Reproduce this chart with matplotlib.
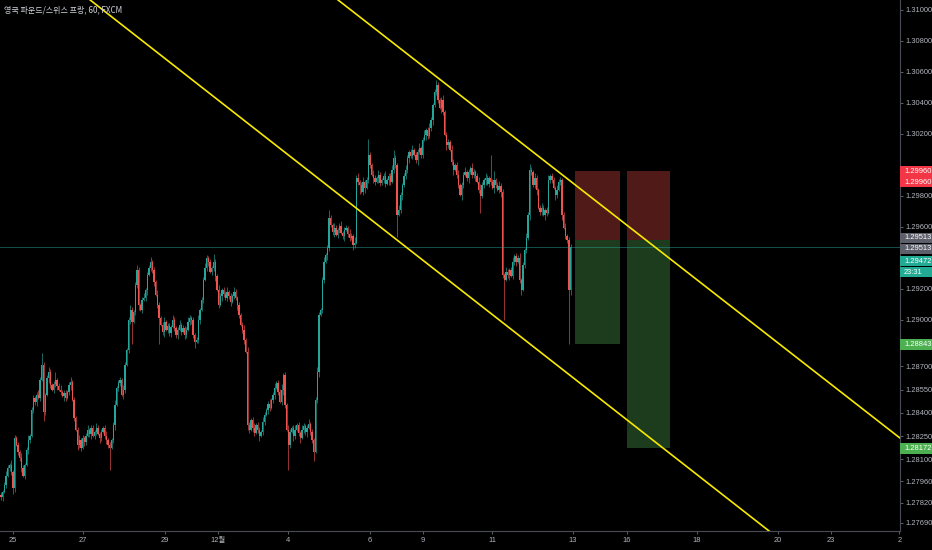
import matplotlib.pyplot as plt
import numpy as np
from matplotlib.patches import Rectangle
from matplotlib.transforms import blended_transform_factory

plt.rcParams['font.family'] = ['Liberation Sans', 'Noto Sans CJK KR', 'DejaVu Sans']

title = '영국 파운드/스위스 프랑, 60, FXCM'

# hourly closes, GBP/CHF
first_open = 1.27870
closes = [
    1.27859, 1.27891, 1.27936, 1.27994, 1.28046, 1.28065, 1.28020, 1.27917, 1.28239, 1.28194,
    1.28149, 1.28110, 1.28046, 1.27994, 1.28065, 1.28162, 1.28227, 1.28252, 1.28420, 1.28497,
    1.28472, 1.28517, 1.28497, 1.28614, 1.28710, 1.28407, 1.28517, 1.28626, 1.28665, 1.28581,
    1.28549, 1.28588, 1.28614, 1.28575, 1.28549, 1.28536, 1.28510, 1.28530, 1.28497, 1.28536,
    1.28581, 1.28601, 1.28485, 1.28368, 1.28291, 1.28194, 1.28227, 1.28175, 1.28239, 1.28214,
    1.28252, 1.28291, 1.28265, 1.28304, 1.28252, 1.28278, 1.28304, 1.28265, 1.28239, 1.28278,
    1.28304, 1.28252, 1.28227, 1.28194, 1.28175, 1.28227, 1.28323, 1.28452, 1.28562, 1.28594,
    1.28614, 1.28517, 1.28549, 1.28710, 1.28807, 1.29001, 1.29065, 1.28988, 1.29052, 1.29226,
    1.29323, 1.29097, 1.29065, 1.29130, 1.29142, 1.29194, 1.29291, 1.29336, 1.29375, 1.29323,
    1.29246, 1.29162, 1.29097, 1.29013, 1.28968, 1.28923, 1.28988, 1.28936, 1.28962, 1.28917,
    1.28955, 1.29001, 1.28949, 1.28904, 1.28936, 1.28968, 1.28923, 1.28949, 1.28904, 1.28936,
    1.28988, 1.29013, 1.29001, 1.28904, 1.28859, 1.28872, 1.29001, 1.29065, 1.29130, 1.29259,
    1.29336, 1.29400, 1.29375, 1.29310, 1.29336, 1.29375, 1.29284, 1.29194, 1.29097, 1.29155,
    1.29194, 1.29168, 1.29142, 1.29181, 1.29155, 1.29117, 1.29155, 1.29181, 1.29142, 1.29097,
    1.29033, 1.28968, 1.28936, 1.28872, 1.28794, 1.28323, 1.28291, 1.28356, 1.28304, 1.28272,
    1.28323, 1.28291, 1.28252, 1.28278, 1.28343, 1.28388, 1.28420, 1.28459, 1.28433, 1.28485,
    1.28517, 1.28562, 1.28594, 1.28536, 1.28472, 1.28549, 1.28646, 1.28452, 1.28291, 1.28194,
    1.28278, 1.28304, 1.28252, 1.28291, 1.28323, 1.28272, 1.28239, 1.28291, 1.28317, 1.28278,
    1.28304, 1.28330, 1.28278, 1.28227, 1.28149, 1.28485, 1.28665, 1.29033, 1.29065, 1.29259,
    1.29375, 1.29420, 1.29465, 1.29658, 1.29613, 1.29568, 1.29594, 1.29549, 1.29581, 1.29607,
    1.29562, 1.29542, 1.29581, 1.29594, 1.29555, 1.29529, 1.29542, 1.29484, 1.29497, 1.29916,
    1.29891, 1.29871, 1.29826, 1.29891, 1.29852, 1.29904, 1.30065, 1.30000, 1.29936, 1.29916,
    1.29891, 1.29916, 1.29936, 1.29884, 1.29904, 1.29929, 1.29878, 1.29904, 1.29929, 1.29891,
    1.29968, 1.30045, 1.30000, 1.29678, 1.29710, 1.29807, 1.29871, 1.29929, 1.29968, 1.30045,
    1.30084, 1.30058, 1.30097, 1.30065, 1.30033, 1.30084, 1.30110, 1.30065, 1.30162, 1.30194,
    1.30226, 1.30187, 1.30239, 1.30291, 1.30387, 1.30471, 1.30516, 1.30420, 1.30368, 1.30420,
    1.30342, 1.30194, 1.30129, 1.30149, 1.30097, 1.30020, 1.29968, 1.30000, 1.29936, 1.29871,
    1.29807, 1.29871, 1.29936, 1.29955, 1.29916, 1.29955, 1.29981, 1.29936, 1.29955, 1.29929,
    1.29891, 1.29839, 1.29800, 1.29871, 1.29904, 1.29916, 1.29878, 1.29916, 1.29891, 1.29852,
    1.29904, 1.29871, 1.29839, 1.29865, 1.29826, 1.29291, 1.29259, 1.29310, 1.29291, 1.29323,
    1.29284, 1.29375, 1.29413, 1.29375, 1.29400, 1.29259, 1.29194, 1.29355, 1.29452, 1.29529,
    1.29678, 1.29968, 1.29955, 1.29871, 1.29916, 1.29839, 1.29723, 1.29697, 1.29723, 1.29678,
    1.29710, 1.29691, 1.29904, 1.29929, 1.29904, 1.29852, 1.29807, 1.29839, 1.29891, 1.29904,
    1.29678, 1.29594, 1.29542, 1.29516, 1.29194, 1.29472,
]

# wick length beyond the body, in pips
upper_wick = [
    2,1,2,3,2,1,3,1,2,1,2,1,3,2,1,2,3,1,2,2,
    1,2,3,2,8,2,1,2,3,2,1,2,5,1,2,3,1,2,2,1,
    2,3,1,2,1,2,3,1,2,1,2,3,1,2,2,1,3,2,1,2,
    1,2,3,1,2,1,2,3,1,2,2,1,3,2,1,2,3,2,1,2,
    3,2,1,2,3,1,2,2,3,1,2,1,3,2,1,2,3,1,2,2,
    1,3,2,1,2,3,1,2,1,2,3,2,1,2,1,2,3,1,2,2,
    3,2,1,2,1,5,2,1,3,2,1,2,2,3,1,2,1,3,2,1,
    2,1,2,3,1,3,2,1,2,3,1,2,2,1,3,2,1,2,3,1,
    2,3,1,2,2,4,1,2,1,3,2,1,2,3,1,2,1,3,2,1,
    2,3,1,2,1,2,3,2,1,2,3,1,2,5,2,1,3,2,1,2,
    3,1,2,2,1,3,2,1,4,2,3,1,2,3,1,2,10,2,1,3,
    2,1,3,2,1,2,3,1,2,2,3,5,2,1,3,2,1,2,3,2,
    1,2,3,1,2,2,3,1,2,3,1,2,3,2,1,2,3,2,1,2,
    3,1,2,2,1,3,2,1,2,3,1,2,2,3,1,2,1,3,2,1,
    2,3,4,2,1,3,2,1,15,2,6,1,2,3,2,2,1,3,2,1,
    2,3,1,2,2,3,1,2,1,3,2,4,2,1,3,2,1,2,3,2,
    1,2,3,1,2,2,1,3,2,2,1,2,3,1,2,2,
]
lower_wick = [
    2,3,1,2,1,2,2,4,3,1,2,2,3,1,2,1,3,2,1,2,
    2,3,1,2,1,6,2,1,3,2,1,2,2,3,1,2,1,3,2,1,
    2,3,1,2,1,3,2,2,1,3,2,1,2,3,1,2,2,1,3,2,
    1,2,3,2,14,1,2,3,1,2,2,1,3,2,1,2,3,14,1,2,
    2,3,1,2,1,2,3,1,2,2,3,1,2,17,1,2,3,1,2,2,
    3,1,2,2,3,1,2,1,3,2,1,2,3,2,4,1,2,3,1,2,
    1,2,3,1,2,2,3,1,2,1,3,2,1,2,2,3,1,2,1,3,
    2,1,2,3,1,3,2,1,3,2,1,2,3,1,2,2,1,3,2,1,
    2,3,1,2,1,2,3,2,1,16,2,1,3,2,1,2,3,1,2,2,
    3,1,2,2,6,1,2,3,1,2,2,1,3,2,1,2,3,1,2,2,
    1,2,3,1,2,2,1,3,2,1,2,6,1,2,3,1,2,2,1,3,
    2,1,3,2,1,2,2,1,3,2,1,2,2,14,1,2,3,1,2,2,
    3,1,2,1,2,3,1,2,2,1,3,2,1,2,3,1,2,2,1,3,
    2,1,3,2,1,2,3,1,2,2,1,3,2,1,2,3,1,2,2,3,
    1,2,11,1,2,3,1,2,2,1,3,2,1,2,3,2,26,1,2,3,
    1,2,2,3,1,2,3,1,2,2,1,3,2,1,2,3,1,2,2,1,
    3,2,1,2,2,1,3,2,1,2,3,1,2,2,35,3,
]

date_ticks = [7.1, 48.2, 96.5, 127.6, 168.8, 217, 248.2, 288.8, 336.5, 368.2, 409.4, 457, 488.2, 528.5]
date_labels = ['25', '27', '29', '12월', '4', '6', '9', '11', '13', '16', '18', '20', '23', '2']

price_ticks = [1.31, 1.308, 1.306, 1.304, 1.302, 1.298, 1.296, 1.292, 1.29, 1.287,
               1.2855, 1.284, 1.2825, 1.281, 1.2796, 1.2782, 1.2769]

# channel drawn on the chart (two points on each line)
upper_line = [(198.2, 1.31065), (528.8, 1.28238)]
lower_line = [(52.4, 1.31065), (452.4, 1.27633)]

# short position tools
pos_left = [337.6, 368.2]
pos_right = [364.1, 393.5]
pos_entry = [1.29513, 1.29513]
pos_stop = [1.29960, 1.29960]
pos_target = [1.28843, 1.28172]

last_price = 1.29472

# price tags on the right axis
tag_y = [1.29960, 1.29890, 1.29529, 1.29458, 1.29380, 1.29309, 1.28843, 1.28172]
tag_text = ['1.29960', '1.29960', '1.29513', '1.29513', '1.29472', '23:31', '1.28843', '1.28172']
tag_color = ['#f23645', '#f23645', '#5d606b', '#5d606b', '#22ab94', '#22ab94', '#4caf50', '#4caf50']

#------------------------------------------------------------------------------
closes = np.array(closes)
opens = np.r_[first_open, closes[:-1]]
highs = np.maximum(opens, closes) + np.array(upper_wick) * 1e-4
lows = np.minimum(opens, closes) - np.array(lower_wick) * 1e-4
idx = np.arange(len(closes))
up = closes >= opens

fig = plt.figure(figsize=(9.32, 5.5), dpi=100, facecolor='black')
ax = fig.add_axes([0, 19 / 550, 900 / 932, 531 / 550])
ax.set_facecolor('black')

UP, DOWN = '#26a69a', '#ef5350'
cols = np.where(up, UP, DOWN)
ax.vlines(idx, lows, highs, colors=cols, linewidth=0.6, alpha=0.75, zorder=3)
body = np.maximum(np.abs(closes - opens), 0.00003)
ax.bar(idx, body, bottom=np.minimum(opens, closes), width=0.8, color=cols, linewidth=0, zorder=4)

for l, r, e, s, t in zip(pos_left, pos_right, pos_entry, pos_stop, pos_target):
    ax.add_patch(Rectangle((l, e), r - l, s - e, facecolor='#4f1a18', edgecolor='none', zorder=2))
    ax.add_patch(Rectangle((l, t), r - l, e - t, facecolor='#1d3b1d', edgecolor='none', zorder=2))

ax.axhline(last_price, color='#26a69a', linewidth=0.6, alpha=0.55, zorder=5)

for p1, p2 in (upper_line, lower_line):
    ax.axline(p1, p2, color='#f7ea00', linewidth=1.2, zorder=6)

ax.set_xlim(-0.59, 528.8)
ax.set_ylim(1.276383, 1.310645)

ax.yaxis.tick_right()
ax.set_yticks(price_ticks)
ax.set_yticklabels(['%.5f' % p for p in price_ticks])
ax.set_xticks(date_ticks)
ax.set_xticklabels(date_labels)
ax.tick_params(axis='both', colors='#6a6d78', labelcolor='#b2b5be', labelsize=5.4,
               length=2.5, width=0.6, pad=1.5)
for side in ['top', 'left']:
    ax.spines[side].set_visible(False)
for side in ['right', 'bottom']:
    ax.spines[side].set_color('#4a4c55')
    ax.spines[side].set_linewidth(0.8)

tr = blended_transform_factory(ax.transAxes, ax.transData)
tag_h = 0.00070
for y, txt, c in zip(tag_y, tag_text, tag_color):
    ax.add_patch(Rectangle((1.0005, y - tag_h / 2), 0.04, tag_h, transform=tr,
                           facecolor=c, edgecolor='none', clip_on=False, zorder=9))
    ax.text(1.0045, y, txt, transform=tr, ha='left', va='center',
            fontsize=5.4, color='white', clip_on=False, zorder=10)

ax.text(0.004, 0.981, title, transform=ax.transAxes, ha='left', va='center',
        fontsize=5.8, color='#d1d4dc', family=['Noto Sans CJK KR', 'DejaVu Sans'], zorder=10)

fig.savefig('out.png', dpi=100, facecolor='black')
